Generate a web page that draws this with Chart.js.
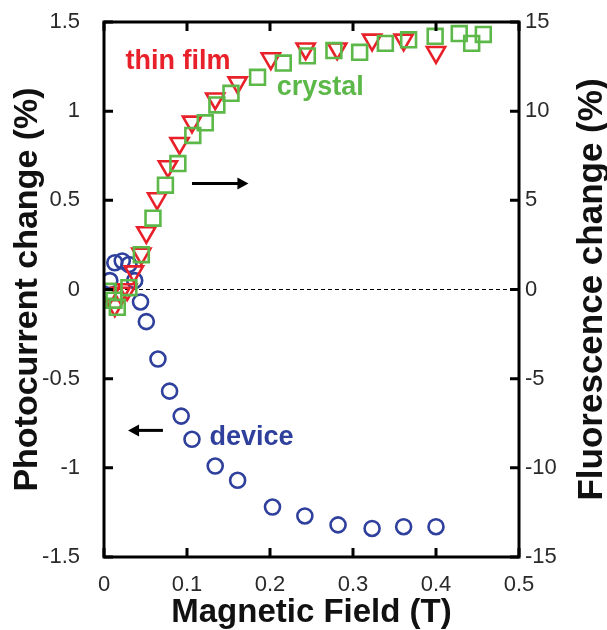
<!DOCTYPE html>
<html>
<head>
<meta charset="utf-8">
<script src="https://cdn.jsdelivr.net/npm/chart.js@4.4.1/dist/chart.umd.min.js"></script>
<style>
  html, body { margin: 0; padding: 0; background: #fff; }
  #wrap { width: 607px; height: 630px; }
</style>
</head>
<body>
<div id="wrap"><canvas id="grafico" width="607" height="630"></canvas></div>
<script>
// dados
const fieldDevice = [0.007, 0.013, 0.022, 0.030, 0.037, 0.044, 0.051, 0.065, 0.079, 0.093, 0.106, 0.134, 0.161, 0.203, 0.242, 0.282, 0.323, 0.361, 0.400];
const photocurrent = [0.05, 0.15, 0.16, 0.14, 0.05, -0.07, -0.18, -0.39, -0.57, -0.71, -0.84, -0.99, -1.07, -1.22, -1.27, -1.32, -1.34, -1.33, -1.33];

const fieldFilm = [0.006, 0.013, 0.020, 0.028, 0.036, 0.045, 0.051, 0.064, 0.077, 0.091, 0.106, 0.134, 0.161, 0.201, 0.243, 0.281, 0.323, 0.361, 0.400];
const fluorFilm = [-0.3, -0.9, -0.2, 0.0, 1.0, 2.0, 3.2, 5.1, 6.9, 8.2, 9.4, 10.7, 11.6, 12.95, 13.5, 13.5, 14.0, 14.0, 13.3];

const fieldCrystal = [0.005, 0.012, 0.016, 0.030, 0.045, 0.059, 0.074, 0.089, 0.107, 0.122, 0.136, 0.153, 0.185, 0.216, 0.245, 0.277, 0.308, 0.339, 0.367, 0.399, 0.428, 0.443, 0.457];
const fluorCrystal = [-0.1, -0.6, -1.0, 0.1, 1.95, 4.0, 5.85, 7.06, 8.64, 9.35, 10.35, 11.0, 11.9, 12.7, 13.1, 13.4, 13.3, 13.8, 14.0, 14.2, 14.35, 13.8, 14.3];

const xTicks = [0, 0.1, 0.2, 0.3, 0.4, 0.5];
const leftTicks = [-1.5, -1, -0.5, 0, 0.5, 1, 1.5];
const rightTicks = [-15, -10, -5, 0, 5, 10, 15];

const RED = '#e8202a', GREEN = '#5cb848', BLUE = '#2e3f9c';
const FONT = 'Liberation Sans, Arial, sans-serif';

function pts(xs, ys) {
    return xs.map((x, i) => ({ x: x, y: ys[i] }));
}

// Moldura, marcas internas e linha tracejada do zero
const moldura = {
    id: 'moldura',
    beforeDatasetsDraw(chart) {
        const { ctx, chartArea: a, scales } = chart;
        const y0 = scales.y.getPixelForValue(0);
        ctx.save();
        ctx.strokeStyle = '#000';
        ctx.lineWidth = 1.2;
        ctx.setLineDash([4, 3]);
        ctx.beginPath();
        ctx.moveTo(a.left, y0);
        ctx.lineTo(a.right, y0);
        ctx.stroke();
        ctx.restore();
    },
    afterDatasetsDraw(chart) {
        const { ctx, chartArea: a, scales } = chart;
        const tl = 9;
        ctx.save();
        ctx.strokeStyle = '#000';
        ctx.lineWidth = 3;
        ctx.strokeRect(a.left, a.top, a.right - a.left, a.bottom - a.top);
        ctx.beginPath();
        xTicks.forEach(v => {
            const px = scales.x.getPixelForValue(v);
            ctx.moveTo(px, a.bottom); ctx.lineTo(px, a.bottom - tl);
            ctx.moveTo(px, a.top); ctx.lineTo(px, a.top + tl);
        });
        leftTicks.forEach(v => {
            const py = scales.y.getPixelForValue(v);
            ctx.moveTo(a.left, py); ctx.lineTo(a.left + tl, py);
        });
        rightTicks.forEach(v => {
            const py = scales.y2.getPixelForValue(v);
            ctx.moveTo(a.right, py); ctx.lineTo(a.right - tl, py);
        });
        ctx.stroke();

        // título do eixo direito (lido de baixo para cima, como no original)
        ctx.save();
        ctx.translate(592, (a.top + a.bottom) / 2);
        ctx.rotate(-Math.PI / 2);
        ctx.font = 'bold 35px ' + FONT;
        ctx.fillStyle = '#111';
        ctx.textAlign = 'center';
        ctx.textBaseline = 'middle';
        ctx.fillText('Fluorescence change (%)', 0, 0);
        ctx.restore();

        // rótulos e setas
        const X = v => scales.x.getPixelForValue(v);
        const Y = v => scales.y.getPixelForValue(v);
        ctx.font = 'bold 27px ' + FONT;
        ctx.textBaseline = 'middle';
        ctx.textAlign = 'left';
        ctx.fillStyle = RED;
        ctx.fillText('thin film', X(0.026), Y(1.28));
        ctx.fillStyle = GREEN;
        ctx.fillText('crystal', X(0.208), Y(1.135));
        ctx.fillStyle = BLUE;
        ctx.fillText('device', X(0.127), Y(-0.83));

        ctx.strokeStyle = '#000';
        ctx.fillStyle = '#000';
        ctx.lineWidth = 3;
        const seta = (x1, x2, yv) => {
            const a1 = X(x1), a2 = X(x2), py = Y(yv);
            const d = Math.sign(a2 - a1);
            ctx.beginPath();
            ctx.moveTo(a1, py); ctx.lineTo(a2 - d * 8, py);
            ctx.stroke();
            ctx.beginPath();
            ctx.moveTo(a2, py);
            ctx.lineTo(a2 - d * 11, py - 6);
            ctx.lineTo(a2 - d * 11, py + 6);
            ctx.closePath();
            ctx.fill();
        };
        seta(0.106, 0.174, 0.595);
        seta(0.071, 0.029, -0.79);
        ctx.restore();
    }
};

const tickFont = { family: FONT, size: 22 };
const titleFont = { family: FONT, size: 33, weight: 'bold', lineHeight: 1 };
const fmt = v => String(v);

new Chart(document.getElementById('grafico').getContext('2d'), {
    type: 'scatter',
    data: {
        datasets: [{
            label: 'crystal',
            data: pts(fieldCrystal, fluorCrystal),
            yAxisID: 'y2',
            pointStyle: 'rect',
            pointRadius: 10.5,
            borderColor: GREEN,
            backgroundColor: 'rgba(0,0,0,0)',
            borderWidth: 2.6
        }, {
            label: 'thin film',
            data: pts(fieldFilm, fluorFilm),
            yAxisID: 'y2',
            pointStyle: 'triangle',
            rotation: 180,
            pointRadius: 10.5,
            borderColor: RED,
            backgroundColor: 'rgba(0,0,0,0)',
            borderWidth: 2.6
        }, {
            label: 'device',
            data: pts(fieldDevice, photocurrent),
            yAxisID: 'y',
            pointStyle: 'circle',
            pointRadius: 7.5,
            borderColor: BLUE,
            backgroundColor: 'rgba(0,0,0,0)',
            borderWidth: 2.6
        }]
    },
    options: {
        responsive: false,
        animation: false,
        layout: { padding: { top: 22, left: 0, right: 0, bottom: 0 } },
        plugins: {
            legend: { display: false },
            tooltip: { enabled: false }
        },
        scales: {
            x: {
                type: 'linear',
                min: 0, max: 0.5,
                afterBuildTicks: s => { s.ticks = xTicks.map(v => ({ value: v })); },
                ticks: { font: tickFont, color: '#2a2a2a', padding: 7, maxRotation: 0, callback: fmt },
                grid: { display: false },
                border: { display: false },
                title: { display: true, text: 'Magnetic Field (T)', font: titleFont, color: '#111', padding: { top: 0, bottom: 1 } },
                afterFit: s => { s.height = 73; }
            },
            y: {
                position: 'left',
                min: -1.5, max: 1.5,
                afterBuildTicks: s => { s.ticks = leftTicks.map(v => ({ value: v })); },
                ticks: { font: tickFont, color: '#2a2a2a', padding: 16, callback: fmt },
                grid: { display: false },
                border: { display: false },
                title: { display: true, text: 'Photocurrent change (%)', font: { family: FONT, size: 34, weight: 'bold', lineHeight: 1 }, color: '#111', padding: { top: 11, bottom: 0 } },
                afterFit: s => { s.width = 104; s.paddingTop = 0; s.paddingBottom = 0; }
            },
            y2: {
                position: 'right',
                min: -15, max: 15,
                afterBuildTicks: s => { s.ticks = rightTicks.map(v => ({ value: v })); },
                ticks: { font: tickFont, color: '#2a2a2a', padding: -2, callback: fmt },
                grid: { display: false },
                border: { display: false },
                title: { display: false },
                afterFit: s => { s.width = 88; s.paddingTop = 0; s.paddingBottom = 0; }
            }
        }
    },
    plugins: [moldura]
});
</script>
</body>
</html>
